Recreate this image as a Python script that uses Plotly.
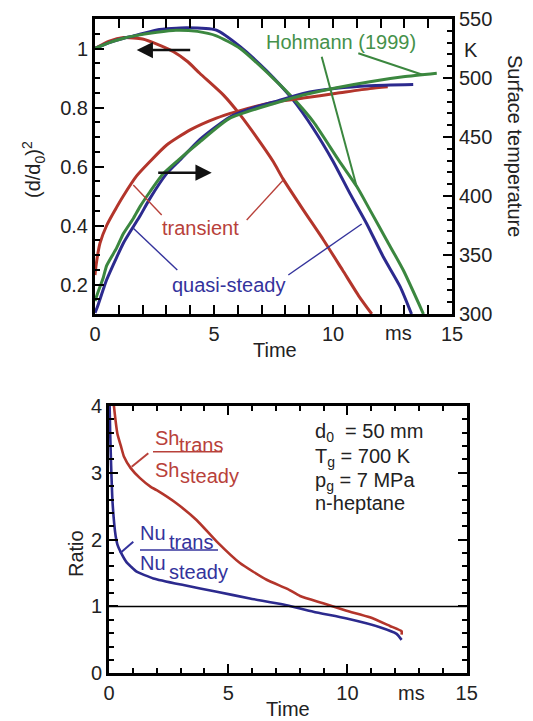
import plotly.graph_objects as go

# ---------------- data (top panel) ----------------
# (d/d0)^2 vs time [ms]
t_d2_trans = [0, 0.6, 1.2, 2.0, 2.6, 3.3, 3.9, 4.4, 5.4, 6.1, 7.0, 7.5, 7.9, 8.75, 9.6, 10.4, 11.1, 11.63]
d2_trans   = [1.0, 1.025, 1.037, 1.032, 1.015, 0.989, 0.955, 0.916, 0.842, 0.775, 0.675, 0.615, 0.558, 0.453, 0.351, 0.249, 0.159, 0.10]

t_d2_qs = [0, 0.6, 1.2, 1.6, 2.6, 3.85, 5.1, 6.1, 7.2, 8.33, 9.17, 10.0, 10.71, 11.41, 12.11, 12.82, 13.3]
d2_qs   = [1.0, 1.02, 1.035, 1.042, 1.063, 1.07, 1.062, 1.006, 0.925, 0.825, 0.729, 0.618, 0.509, 0.407, 0.294, 0.193, 0.10]

t_d2_hoh = [0, 0.6, 1.2, 1.6, 2.6, 3.4, 4.3, 5.1, 6.1, 7.5, 8.33, 9.17, 10.25, 11.0, 11.55, 12.25, 12.95, 13.8]
d2_hoh   = [1.0, 1.02, 1.035, 1.042, 1.055, 1.062, 1.058, 1.043, 1.0, 0.898, 0.831, 0.752, 0.62, 0.532, 0.453, 0.351, 0.249, 0.10]

# surface temperature [K] vs time [ms]
t_T_trans = [0, 0.05, 0.21, 0.49, 0.84, 1.19, 1.75, 2.3, 3.0, 4.0, 5.1, 5.95, 7.4, 8.75, 10.15, 11.55, 12.3]
T_trans   = [333, 342, 360, 375, 388, 400, 417, 429, 443, 456, 466, 471.5, 479, 483, 487, 491, 492.5]

t_T_qs = [0, 0.1, 0.35, 0.49, 0.91, 1.19, 1.61, 1.89, 2.31, 3.01, 3.57, 4.41, 5.67, 6.79, 7.56, 8.75, 10.15, 11.55, 13.37]
T_qs   = [301, 306, 321, 329, 348, 360, 374, 383, 398, 419, 430.5, 448, 467, 475.7, 480, 487, 491.3, 493.5, 494.5]

t_T_hoh = [0, 0.1, 0.35, 0.49, 0.91, 1.19, 1.61, 1.89, 2.31, 2.87, 3.5, 4.41, 5.67, 7.56, 8.75, 10.15, 11.55, 12.95, 14.36]
T_hoh   = [311, 317, 331, 341, 356, 368, 381, 391, 403.6, 419, 430.5, 446, 466, 478.6, 485.6, 491.8, 496.9, 501, 504]

# ---------------- data (bottom panel) ----------------
t_sh = [0.17, 0.21, 0.35, 0.5, 0.63, 0.91, 1.3, 1.75, 2.0, 2.84, 3.68, 4.52, 5.49, 6.61, 7.5, 8.01, 8.98, 9.96, 10.94, 11.78, 12.27, 12.27]
r_sh = [4.15, 3.99, 3.59, 3.4, 3.24, 3.07, 2.92, 2.79, 2.74, 2.54, 2.29, 1.97, 1.65, 1.40, 1.26, 1.157, 1.048, 0.937, 0.838, 0.708, 0.63, 0.58]

t_nu = [0.02, 0.05, 0.09, 0.15, 0.28, 0.35, 0.48, 0.74, 0.91, 1.16, 1.86, 3.12, 4.52, 5.91, 7.31, 8.57, 9.97, 11.36, 12.06, 12.27]
r_nu = [4.1, 3.6, 3.1, 2.55, 2.05, 1.93, 1.82, 1.66, 1.60, 1.52, 1.42, 1.32, 1.22, 1.12, 1.03, 0.92, 0.82, 0.69, 0.59, 0.50]

# axis ranges and tick steps
x_range, x_step = [0, 15], 5
d2_range, d2_step = [0.1, 1.1], 0.2
T_range, T_step = [300, 550], 50
ratio_range, ratio_step = [0, 4], 1

# ---------------- styling ----------------
OX, OY = 8, 8                 # page body offset of the figure div
W, H = 533 - OX, 721 - OY     # figure size so it fits the window
ML, MR, MT, MB = 20, 20, 10, 10
RED, BLUE, GREEN = "#b3352b", "#2c2a8e", "#3b873f"
RED_T, BLUE_T, GREEN_T = "#b8413a", "#34339c", "#45914a"
FONT = "Arial, Liberation Sans, Helvetica, sans-serif"
FS = 20


def px(x):
    return (x - OX - ML) / (W - ML - MR)


def py(y):
    return 1 - (y - OY - MT) / (H - MT - MB)


top_x = [px(95), px(452)]
top_y = [py(314), py(19)]
bot_x = [px(109), px(466.7)]
bot_y = [py(673.3), py(406)]

fig = go.Figure()

# top panel traces
for tt, vv, c in [(t_d2_trans, d2_trans, RED), (t_d2_qs, d2_qs, BLUE), (t_d2_hoh, d2_hoh, GREEN)]:
    fig.add_trace(go.Scatter(x=tt, y=vv, mode="lines",
                             line=dict(color=c, width=3, shape="spline", smoothing=0.6),
                             xaxis="x", yaxis="y", showlegend=False))
for tt, vv, c in [(t_T_trans, T_trans, RED), (t_T_qs, T_qs, BLUE), (t_T_hoh, T_hoh, GREEN)]:
    fig.add_trace(go.Scatter(x=tt, y=vv, mode="lines",
                             line=dict(color=c, width=3, shape="spline", smoothing=0.6),
                             xaxis="x", yaxis="y2", showlegend=False))

# bottom panel traces
fig.add_trace(go.Scatter(x=t_sh, y=r_sh, mode="lines",
                         line=dict(color=RED, width=2.6, shape="spline", smoothing=0.5),
                         xaxis="x2", yaxis="y3", showlegend=False))
fig.add_trace(go.Scatter(x=t_nu, y=r_nu, mode="lines",
                         line=dict(color=BLUE, width=2.6, shape="spline", smoothing=0.5),
                         xaxis="x2", yaxis="y3", showlegend=False))


def ax_style(minor_step, mirror=False):
    return dict(showline=True, linecolor="black", linewidth=3, ticks="inside",
                ticklen=9, tickwidth=2, tickcolor="black", mirror=mirror,
                minor=dict(ticks="inside", dtick=minor_step, ticklen=5, tickwidth=2, tickcolor="black"),
                showgrid=False, zeroline=False, automargin=False,
                tickfont=dict(family=FONT, size=FS, color="#222"))


fig.update_layout(
    template="simple_white",
    width=W, height=H,
    margin=dict(l=ML, r=MR, t=MT, b=MB),
    paper_bgcolor="white", plot_bgcolor="white",
    font=dict(family=FONT, size=FS, color="#222"),
    showlegend=False,
    xaxis=dict(domain=top_x, anchor="y", range=x_range, dtick=x_step, **ax_style(1, "allticks")),
    yaxis=dict(domain=top_y, anchor="x", range=d2_range, tick0=0, dtick=d2_step, **ax_style(0.05)),
    yaxis2=dict(anchor="x", overlaying="y", side="right", range=T_range, dtick=T_step, **ax_style(10)),
    xaxis2=dict(domain=bot_x, anchor="y3", range=x_range, dtick=x_step, **ax_style(1, "allticks")),
    yaxis3=dict(domain=bot_y, anchor="x2", range=ratio_range, dtick=ratio_step, **ax_style(0.2, "allticks")),
)

# horizontal reference line at ratio = 1
fig.add_shape(type="line", xref="x2 domain", yref="y3", x0=0, x1=1, y0=1, y1=1, opacity=1,
              line=dict(color="black", width=1.6))

anns = []


def txt(x, y, s, color="#222", angle=0, xanchor="center", yanchor="middle", size=FS):
    anns.append(dict(x=px(x), y=py(y), xref="paper", yref="paper", text=s, showarrow=False,
                     textangle=angle, xanchor=xanchor, yanchor=yanchor,
                     font=dict(family=FONT, size=size, color=color)))


def seg(x0, y0, x1, y1, color, width=1.4):
    fig.add_shape(type="line", xref="paper", yref="paper", x0=px(x0), y0=py(y0), x1=px(x1), y1=py(y1),
                  opacity=1, line=dict(color=color, width=width))


# top panel labels
txt(33, 170, "(d/d<sub>0</sub>)<sup>2</sup>", angle=-90)
txt(515, 146, "Surface temperature", angle=90)
txt(471, 50, "K")
txt(275, 350, "Time")
txt(398, 333, "ms")
txt(341, 41.7, "Hohmann (1999)", color=GREEN_T)
txt(200, 228.3, "transient", color=RED_T)
txt(228, 285, "quasi-steady", color=BLUE_T)

# leader lines (top)
seg(161.7, 215, 133.3, 185, RED_T)
seg(246.7, 220, 283.3, 180, RED_T)
seg(177.3, 270, 133.3, 228.3, BLUE_T)
seg(288.3, 275, 361.7, 224, BLUE_T)
seg(321.7, 56.7, 356.7, 186.7, GREEN, 2)
seg(358.3, 53.3, 423.3, 75, GREEN, 2)

# arrows (top)
anns.append(dict(x=px(136.7), y=py(50), xref="paper", yref="paper", ax=55, ay=0, axref="pixel", ayref="pixel",
                 text="", showarrow=True, arrowhead=2, arrowsize=1.3, arrowwidth=2.5, arrowcolor="#111"))
anns.append(dict(x=px(211.7), y=py(172.7), xref="paper", yref="paper", ax=-55, ay=0, axref="pixel", ayref="pixel",
                 text="", showarrow=True, arrowhead=2, arrowsize=1.3, arrowwidth=2.5, arrowcolor="#111"))

# bottom panel labels
txt(76, 554, "Ratio", angle=-90)
txt(288, 709, "Time")
txt(411.7, 693, "ms")

txt(153, 438, "Sh", color=RED_T, xanchor="left")
txt(176.7, 445, "trans", color=RED_T, xanchor="left")
seg(153, 451.7, 222, 451.7, RED_T, 1.5)
txt(153, 470, "Sh", color=RED_T, xanchor="left")
txt(177.5, 476, "steady", color=RED_T, xanchor="left")
seg(131.7, 466.7, 148.3, 453.3, RED_T, 2)

txt(138, 533, "Nu", color=BLUE_T, xanchor="left")
txt(166.7, 541.7, "trans", color=BLUE_T, xanchor="left")
seg(140, 550, 218, 550, BLUE_T, 1.5)
txt(138, 563, "Nu", color=BLUE_T, xanchor="left")
txt(166.7, 572, "steady", color=BLUE_T, xanchor="left")
seg(120, 553.3, 133.3, 541.7, BLUE_T, 2)

txt(313, 432, "d<sub>0</sub>  = 50 mm", xanchor="left")
txt(313, 457, "T<sub>g</sub> = 700 K", xanchor="left")
txt(313, 481, "p<sub>g</sub> = 7 MPa", xanchor="left")
txt(313, 503, "n-heptane", xanchor="left")

fig.update_layout(annotations=anns)

fig.write_html("out.html", config={"displayModeBar": False})
